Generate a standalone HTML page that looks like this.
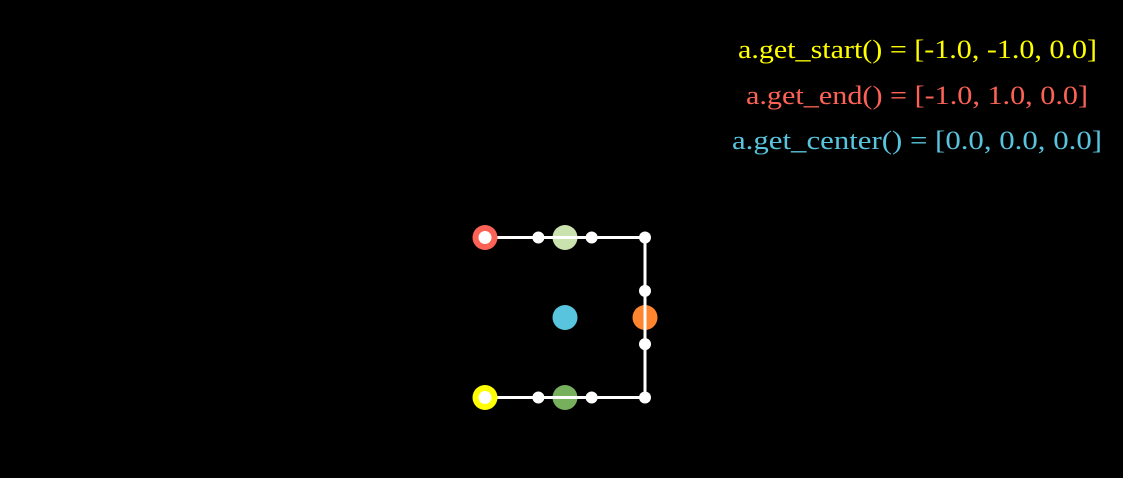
<!DOCTYPE html>
<html><head><meta charset="utf-8"><style>
html,body{margin:0;padding:0;background:#000;width:1123px;height:478px;overflow:hidden}
svg{display:block}
text{font-family:"Liberation Serif",serif;font-size:26px}
</style></head><body>
<svg id="c" width="1123" height="478">
<text x="738" y="58" textLength="359" lengthAdjust="spacingAndGlyphs" fill="#FFFF00">a.get_start() = [-1.0, -1.0, 0.0]</text>
<text x="746" y="104" textLength="342" lengthAdjust="spacingAndGlyphs" fill="#FC6255">a.get_end() = [-1.0, 1.0, 0.0]</text>
<text x="732" y="149" textLength="370" lengthAdjust="spacingAndGlyphs" fill="#58C4DD">a.get_center() = [0.0, 0.0, 0.0]</text>
<g id="g"></g>
</svg>
<script>
const pathXs=[-1,1,1,-1];
const pathYs=[-1,-1,1,1];
const handleXs=[-0.333,0.333,1,1,0.333,-0.333];
const handleYs=[-1,-1,-0.333,0.333,1,1];
const markXs=[0,0,1,0];
const markYs=[1,-1,0,0];
const markColors=["#C9E2AE","#77B05D","#FF862F","#58C4DD"];
const ox=565,oy=317.5,u=80;
const sx=x=>ox+x*u, sy=y=>oy-y*u;
const g=document.getElementById('g');
const NS='http://www.w3.org/2000/svg';
function mk(t,a){const e=document.createElementNS(NS,t);for(const k in a)e.setAttribute(k,a[k]);g.appendChild(e);return e;}
const pl=mk('polyline',{points:pathXs.map((x,i)=>sx(x)+','+sy(pathYs[i])).join(' '),fill:'none',stroke:'#fff','stroke-width':3});


markXs.forEach((x,i)=>{const c=mk('circle',{cx:sx(x),cy:sy(markYs[i]),r:12.5,fill:markColors[i]});

});
pl.parentNode.appendChild(pl);
pathXs.forEach((x,i)=>{const c=mk('circle',{cx:sx(x),cy:sy(pathYs[i]),r:6,fill:'#fff'});

});
handleXs.forEach((x,i)=>{const c=mk('circle',{cx:sx(x),cy:sy(handleYs[i]),r:6,fill:'#fff'});

});
const s=mk('circle',{cx:sx(-1),cy:sy(-1),r:12.5,fill:'#FFFF00'});


const e=mk('circle',{cx:sx(-1),cy:sy(1),r:12.5,fill:'#FC6255'});


[[-1,-1],[-1,1]].forEach(p=>{const c=mk('circle',{cx:sx(p[0]),cy:sy(p[1]),r:6.5,fill:'#fff'});

});
</script>
</body></html>
